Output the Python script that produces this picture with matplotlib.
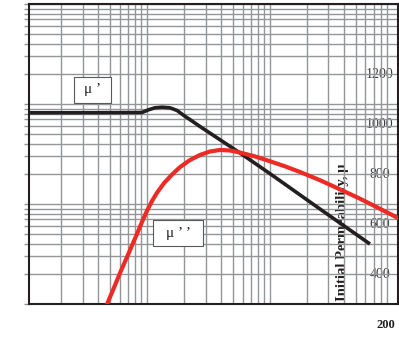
import numpy as np
import matplotlib
matplotlib.use("Agg")
import matplotlib.pyplot as plt
from matplotlib.patches import Rectangle
from matplotlib.ticker import FixedLocator, NullLocator, NullFormatter

# curve data (log-log axes)
mu1_x = [1.098, 4.15, 9.12, 10.2, 11.6, 13.3, 15.4, 17.6, 20.0, 23.3, 27.0, 57.2, 104, 256, 653]
mu1_y = [81.7, 81.8, 82.2, 87.1, 91.6, 92.9, 91.6, 86.1, 76.7, 67.6, 59.6, 32.4, 19.5, 8.91, 3.98]

mu2_x = [4.56, 5.30, 6.04, 6.89, 8.30, 9.12, 10.0, 11.0, 12.1, 13.8, 16.0, 18.6, 22.4, 27.0,
         32.6, 39.3, 47.4, 57.2, 75.8, 100, 133, 176, 256, 373, 542, 789, 1146]
mu2_y = [0.89, 1.38, 2.04, 2.95, 5.01, 6.61, 8.51, 10.7, 13.0, 16.2, 19.7, 23.4, 27.5, 30.9,
         33.5, 34.7, 34.3, 32.7, 29.9, 26.8, 23.8, 20.9, 17.3, 14.0, 11.3, 8.95, 7.08]

# grid positions (the 1000 line is not drawn on x)
x_grid = [m * 10 ** k for k in range(3) for m in range(1, 10)]
y_grid = [m * 10 ** k for k in range(3) for m in range(1, 10)] + [1000]

side_labels = ["1200", "1000", "800", "600", "400"]
bottom_label = "200"

W, H = 399, 351
L, R, T, B = 29, 397.5, 4, 304

fig = plt.figure(figsize=(W / 100, H / 100), dpi=100)
ax = fig.add_axes([L / W, (H - B) / H, (R - L) / W, (B - T) / H])

def ax_pos(px, py):
    # pixel position in the picture -> axes fraction
    return (px - L) / (R - L), (B - py) / (B - T)

gridc = "#939598"
ink = "#231f20"

ax.set_xscale("log")
ax.set_yscale("log")
ax.set_xlim(10 ** ((L - 24) / 122.9), 10 ** ((R - 24) / 122.9))
ax.set_ylim(1, 1000)

ax.xaxis.set_major_locator(FixedLocator(x_grid))
ax.xaxis.set_minor_locator(NullLocator())
ax.yaxis.set_major_locator(FixedLocator(y_grid))
ax.yaxis.set_minor_locator(NullLocator())
ax.xaxis.set_major_formatter(NullFormatter())
ax.yaxis.set_major_formatter(NullFormatter())
ax.tick_params(axis="x", length=0)
ax.tick_params(axis="y", direction="out", length=3.6, width=1.0, color=gridc, right=False)
ax.grid(True, color=gridc, linewidth=1.0)
ax.set_axisbelow(True)

for s in ax.spines.values():
    s.set_color(ink)
    s.set_linewidth(1.5)

ax.plot(mu1_x, mu1_y, color=ink, linewidth=2.6, solid_capstyle="butt",
        solid_joinstyle="round", zorder=3)
ax.plot(mu2_x, mu2_y, color="#ee2a24", linewidth=3.0, solid_capstyle="butt",
        solid_joinstyle="round", zorder=3)

# label boxes
for (x0, y0, x1, y1, txt) in [(74, 77, 111, 103, "\u03bc \u2019"),
                              (153, 220, 203, 246, "\u03bc \u2019 \u2019")]:
    ax0, ay1 = ax_pos(x0, y1)
    ax1, ay0 = ax_pos(x1, y0)
    ax.add_patch(Rectangle((ax0, ay1), ax1 - ax0, ay0 - ay1, transform=ax.transAxes,
                           facecolor="white", edgecolor="#58595b", linewidth=0.8, zorder=4))
    ax.text((ax0 + ax1) / 2, (ay0 + ay1) / 2, txt, transform=ax.transAxes,
            ha="center", va="center", fontsize=11, family="Liberation Serif",
            color=ink, zorder=5)

# leftover text from the neighbouring chart
for i, lab in enumerate(side_labels):
    px, py = ax_pos(380, 75 + 50 * i)
    ax.text(px, py, lab, transform=ax.transAxes, ha="center", va="center",
            fontsize=10, family="Liberation Serif", color="#3a3a3a", zorder=0.3)

px, py = ax_pos(342, 301)
ax.text(px, py, "Initial Permeability, \u03bc", transform=ax.transAxes, rotation=90,
        ha="center", va="bottom", fontsize=10.5, fontweight="bold",
        family="Liberation Serif", color=ink, zorder=0.3)

fig.text(386 / W, (H - 325) / H, bottom_label, ha="center", va="center",
         fontsize=9, fontweight="bold", family="Liberation Serif", color=ink)

fig.savefig("out.png", dpi=100)
